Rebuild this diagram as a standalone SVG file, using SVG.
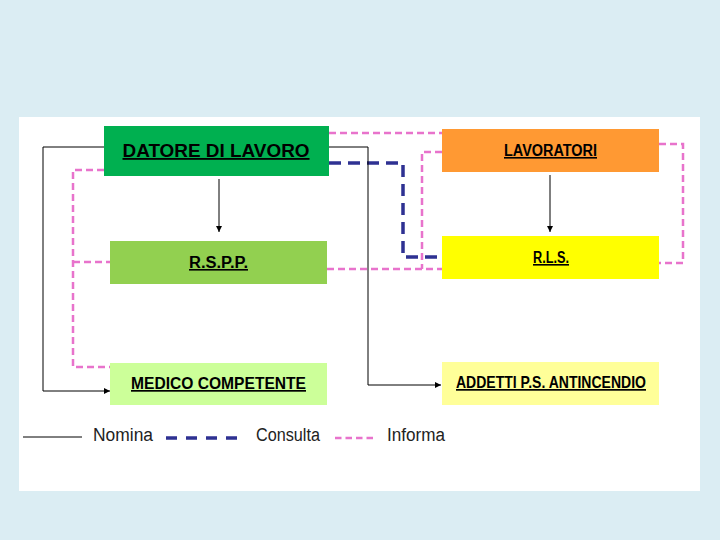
<svg xmlns="http://www.w3.org/2000/svg" width="720" height="540" viewBox="0 0 720 540">
<defs>
<marker id="arr" viewBox="0 0 10 10" refX="10" refY="5" markerWidth="6" markerHeight="6" markerUnits="userSpaceOnUse" orient="auto">
<path d="M0,0 L10,5 L0,10 z" fill="#000"/>
</marker>
<style>
.box{stroke:none}
.lbl{font-family:"Liberation Sans",Arial,sans-serif;font-weight:bold;fill:#000;text-anchor:middle;text-decoration:underline}
.nom{fill:none;stroke:#000;stroke-width:1}
.con{fill:none;stroke:#2e3192;stroke-width:3.5;stroke-dasharray:12 7}
.inf{fill:none;stroke:#e873cc;stroke-width:2.5;stroke-dasharray:7 4}
.leg{font-family:"Liberation Sans",Arial,sans-serif;font-size:18px;fill:#222}
</style>
</defs>
<rect x="0" y="0" width="720" height="540" fill="#dbedf3"/>
<rect x="19" y="117" width="681" height="374" fill="#ffffff"/>

<g id="connectors">
<g id="informa">
<path class="inf" d="M329,133 H442"/>
<path class="inf" d="M104,170 H73 V367 H110"/>
<path class="inf" d="M73,262 H110"/>
<path class="inf" d="M327,269 H442"/>
<path class="inf" d="M442,152 H422 V269"/>
<path class="inf" d="M659,144 H683 V263 H659"/>
</g>
<g id="consulta">
<path class="con" d="M329,163 H403 V257 H442"/>
</g>
<g id="nomina">
<path class="nom" d="M104,147 H43 V391 H110" marker-end="url(#arr)"/>
<path class="nom" d="M329,147 H368 V385"/>
<path class="nom" d="M368,385 H441" stroke="#777" marker-end="url(#arr)"/>
<path class="nom" d="M219,179 V232" marker-end="url(#arr)"/>
<path class="nom" d="M550,175 V232" marker-end="url(#arr)"/>
</g>
</g>

<g id="datore">
<rect class="box" x="104" y="126" width="225" height="50" fill="#00b050"/>
<text class="lbl" x="216" y="157" font-size="18" textLength="187" lengthAdjust="spacingAndGlyphs">DATORE DI LAVORO</text>
</g>
<g id="rspp">
<rect class="box" x="110" y="241" width="217" height="43" fill="#92d050"/>
<text class="lbl" x="218.5" y="268" font-size="16" textLength="59" lengthAdjust="spacingAndGlyphs">R.S.P.P.</text>
</g>
<g id="medico">
<rect class="box" x="110" y="363" width="217" height="42" fill="#ccff99"/>
<text class="lbl" x="218.5" y="389" font-size="17" textLength="175" lengthAdjust="spacingAndGlyphs">MEDICO COMPETENTE</text>
</g>
<g id="lavoratori">
<rect class="box" x="442" y="129" width="217" height="43" fill="#ff9933"/>
<text class="lbl" x="550.5" y="156" font-size="16" textLength="93" lengthAdjust="spacingAndGlyphs">LAVORATORI</text>
</g>
<g id="rls">
<rect class="box" x="442" y="236" width="217" height="43" fill="#ffff00"/>
<text class="lbl" x="551" y="263" font-size="16" textLength="36" lengthAdjust="spacingAndGlyphs">R.L.S.</text>
</g>
<g id="addetti">
<rect class="box" x="442" y="362" width="217" height="43" fill="#ffff99"/>
<text class="lbl" x="551" y="388" font-size="17" textLength="190" lengthAdjust="spacingAndGlyphs">ADDETTI P.S. ANTINCENDIO</text>
</g>

<g id="legend">
<line x1="23" y1="437" x2="82" y2="437" stroke="#000" stroke-width="1"/>
<text class="leg" x="93" y="441" textLength="60" lengthAdjust="spacingAndGlyphs">Nomina</text>
<line x1="166" y1="438" x2="241" y2="438" stroke="#2e3192" stroke-width="3.5" stroke-dasharray="11 9"/>
<text class="leg" x="256" y="441" textLength="64" lengthAdjust="spacingAndGlyphs">Consulta</text>
<line x1="335" y1="438" x2="373" y2="438" stroke="#e873cc" stroke-width="2.5" stroke-dasharray="6.5 4"/>
<text class="leg" x="387" y="441" textLength="58" lengthAdjust="spacingAndGlyphs">Informa</text>
</g>
</svg>
